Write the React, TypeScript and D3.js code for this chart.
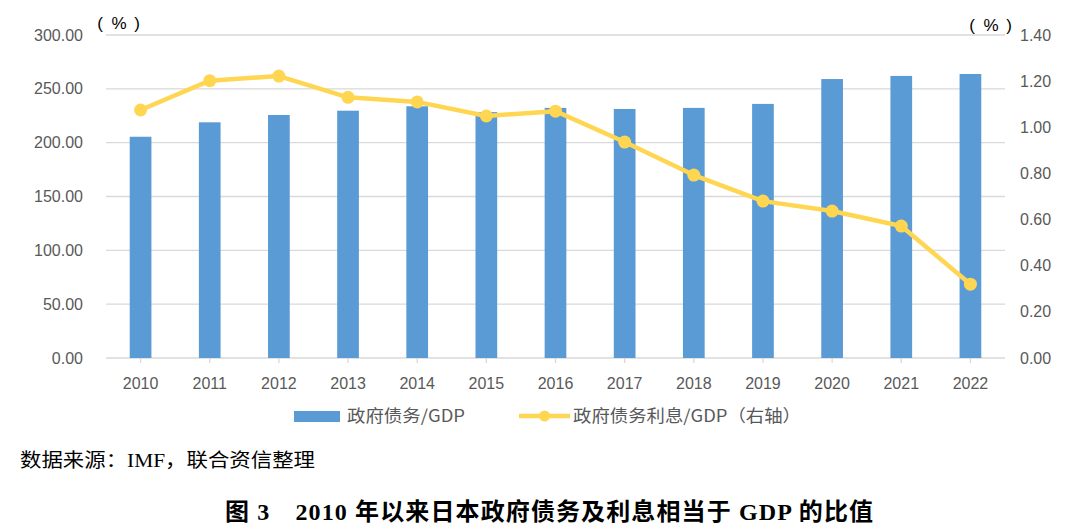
import React from "react";
import * as d3 from "d3";

const years = ["2010","2011","2012","2013","2014","2015","2016","2017","2018","2019","2020","2021","2022"];
const debtRatio = [205.5, 218.9, 225.7, 229.7, 233.8, 228.4, 232.3, 231.3, 232.3, 236.0, 259.1, 262.0, 263.8];
const interestRatio = [1.075, 1.202, 1.222, 1.13, 1.11, 1.049, 1.07, 0.936, 0.793, 0.68, 0.637, 0.572, 0.32];
const leftTicks = [0, 50, 100, 150, 200, 250, 300];
const rightTicks = [0, 0.2, 0.4, 0.6, 0.8, 1.0, 1.2, 1.4];

const W = 1080, H = 530;
const left = 106, right = 1005, top = 35, bottom = 358;
const BAR = "#5B9BD5";
const LINE = "#FFD652";
const TXT = "#595959";
const GRID = "#D9D9D9";

function Pct({ x, y }: { x: number; y: number }) {
  return (
    <g fontSize={17} fill="#000" fontFamily="'Liberation Sans', Arial, sans-serif">
      <text x={x} y={y} dy="0.35em" textAnchor="middle">(</text>
      <text x={x + 19} y={y} dy="0.35em" textAnchor="middle">%</text>
      <text x={x + 37} y={y} dy="0.35em" textAnchor="middle">)</text>
    </g>
  );
}

export default function App() {
  const x = d3.scaleBand<string>().domain(years).range([left, right]).paddingInner(0.686).paddingOuter(0.343);
  const yL = d3.scaleLinear().domain([0, 300]).range([bottom, top]);
  const yR = d3.scaleLinear().domain([0, 1.4]).range([bottom, top]);
  const cx = (y: string) => (x(y) as number) + x.bandwidth() / 2;
  const line = d3.line<number>().x((_, i) => cx(years[i])).y((d) => yR(d));
  const font = "'Liberation Sans', Arial, 'Noto Sans CJK SC', sans-serif";
  const cjk = "'Noto Sans CJK SC', sans-serif";
  const serif = "'Liberation Serif', 'Noto Sans CJK SC', serif";
  const step = (right - left) / years.length;

  return (
    <svg width={W} height={H} style={{ display: "block", position: "absolute", left: 0, top: 0 }} fontFamily={font}>
      <rect width={W} height={H} fill="#fff" />
      {leftTicks.map((t) => (
        <line key={"g" + t} x1={left} x2={right} y1={yL(t)} y2={yL(t)} stroke={GRID} strokeWidth={1.3} />
      ))}
      {years.map((yy, i) => (
        <line key={"tk" + yy} x1={left + step * (i + 0.5)} x2={left + step * (i + 0.5)} y1={bottom} y2={bottom + 5} stroke={GRID} strokeWidth={1.3} />
      ))}
      {leftTicks.map((t) => (
        <text key={"l" + t} x={83} y={yL(t)} dy="0.35em" textAnchor="end" fontSize={16} fill={TXT}>{t.toFixed(2)}</text>
      ))}
      {rightTicks.map((t) => (
        <text key={"r" + t} x={1020} y={yR(t)} dy="0.35em" textAnchor="start" fontSize={16} fill={TXT}>{t.toFixed(2)}</text>
      ))}
      <Pct x={100} y={23} />
      <Pct x={972} y={25} />
      {years.map((yy, i) => (
        <rect key={"b" + yy} x={x(yy)} y={yL(debtRatio[i])} width={x.bandwidth()} height={bottom - yL(debtRatio[i])} fill={BAR} />
      ))}
      {years.map((yy) => (
        <text key={"x" + yy} x={cx(yy)} y={383} dy="0.35em" textAnchor="middle" fontSize={16} fill={TXT}>{yy}</text>
      ))}
      <path d={line(interestRatio) || ""} fill="none" stroke={LINE} strokeWidth={4.5} strokeLinejoin="round" />
      {interestRatio.map((v, i) => (
        <circle key={"c" + i} cx={cx(years[i])} cy={yR(v)} r={6.5} fill={LINE} />
      ))}
      {/* legend */}
      <rect x={294} y={411} width={46} height={11} fill={BAR} />
      <text x={347} y={416} dy="0.35em" fontSize={17} fill={TXT} fontFamily={cjk} textLength={118} lengthAdjust="spacingAndGlyphs">政府债务/GDP</text>
      <line x1={519} x2={570} y1={416} y2={416} stroke={LINE} strokeWidth={4.5} />
      <circle cx={544.5} cy={416} r={5.5} fill={LINE} />
      <text x={573} y={416} dy="0.35em" fontSize={17} fill={TXT} fontFamily={cjk} textLength={228} lengthAdjust="spacingAndGlyphs">政府债务利息/GDP（右轴）</text>
      <text x={20} y={460} dy="0.35em" fontSize={19} fill="#000" fontFamily={serif} textLength={295} lengthAdjust="spacingAndGlyphs">数据来源：IMF，联合资信整理</text>
      <text x={225} y={512} dy="0.35em" fontSize={24} fontWeight="bold" fill="#000" fontFamily={serif} textLength={648} lengthAdjust="spacing">图 3　2010 年以来日本政府债务及利息相当于 GDP 的比值</text>
    </svg>
  );
}
